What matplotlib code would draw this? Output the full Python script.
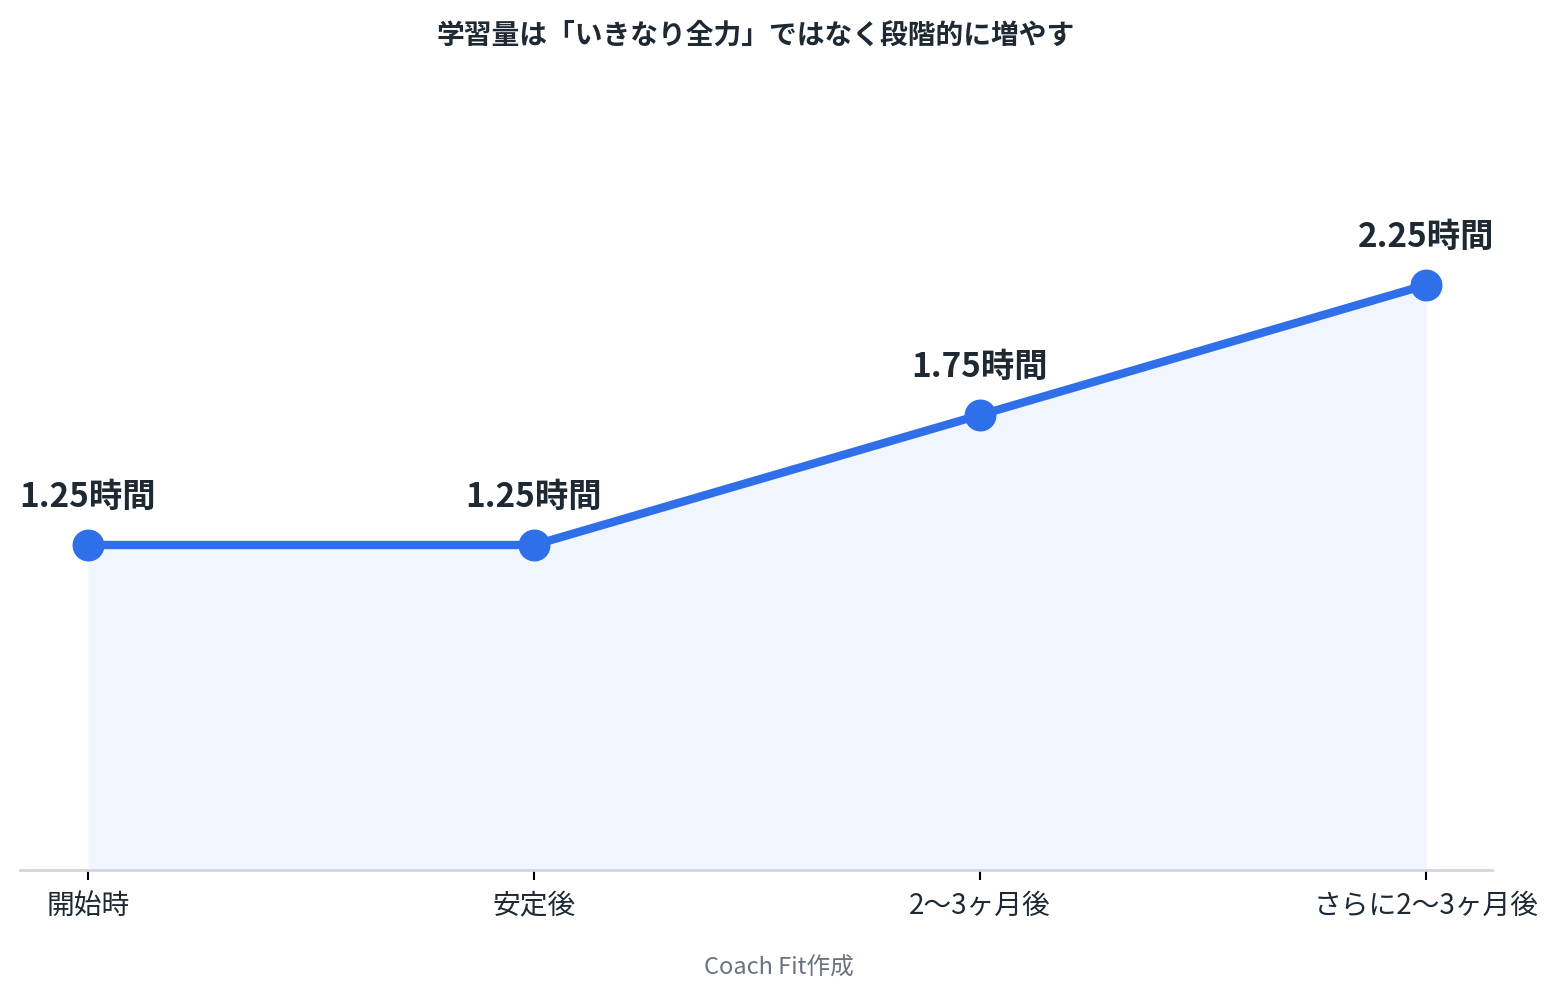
import matplotlib
matplotlib.use('Agg')
import matplotlib.pyplot as plt

plt.rcParams['font.family'] = ['Noto Sans CJK JP', 'DejaVu Sans']

stages = ['開始時', '安定後', '2〜3ヶ月後', 'さらに2〜3ヶ月後']
hours = [1.25, 1.25, 1.75, 2.25]
labels = ['1.25時間', '1.25時間', '1.75時間', '2.25時間']

blue = '#2f6fe9'
dark = '#1f2933'

fig = plt.figure(figsize=(15.58, 9.99), dpi=100)
ax = fig.add_axes([20 / 1558, 1 - 870 / 999, 1472 / 1558, 780 / 999])

x = list(range(len(stages)))
ax.fill_between(x, hours, 0, color='#f0f5fe', linewidth=0)
ax.plot(x, hours, color=blue, linewidth=6, marker='o', markersize=22,
        solid_capstyle='round', zorder=3)

for xi, yi, lab in zip(x, hours, labels):
    ax.annotate(lab, (xi, yi), xytext=(0, 34), textcoords='offset points',
                ha='center', va='center', fontsize=24, fontweight='bold', color=dark)

ax.set_xlim(-68 / 446, 3 + 66 / 446)
ax.set_ylim(0, 3.0)
ax.set_xticks(x)
ax.set_xticklabels(stages, fontsize=20, color=dark)
ax.tick_params(axis='x', length=7, width=1.5, color='black', pad=8)
ax.set_yticks([])
for side in ['top', 'left', 'right']:
    ax.spines[side].set_visible(False)
ax.spines['bottom'].set_color('#d0d5de')
ax.spines['bottom'].set_linewidth(2)

ax.set_title('学習量は「いきなり全力」ではなく段階的に増やす',
             fontsize=20, fontweight='bold', color=dark, y=1 + 46 / 780, va='center')
fig.text(0.5, 1 - 968 / 999, 'Coach Fit作成', ha='center', va='center',
         fontsize=17, color='#6b7280')

fig.savefig('out.png', dpi=100)
